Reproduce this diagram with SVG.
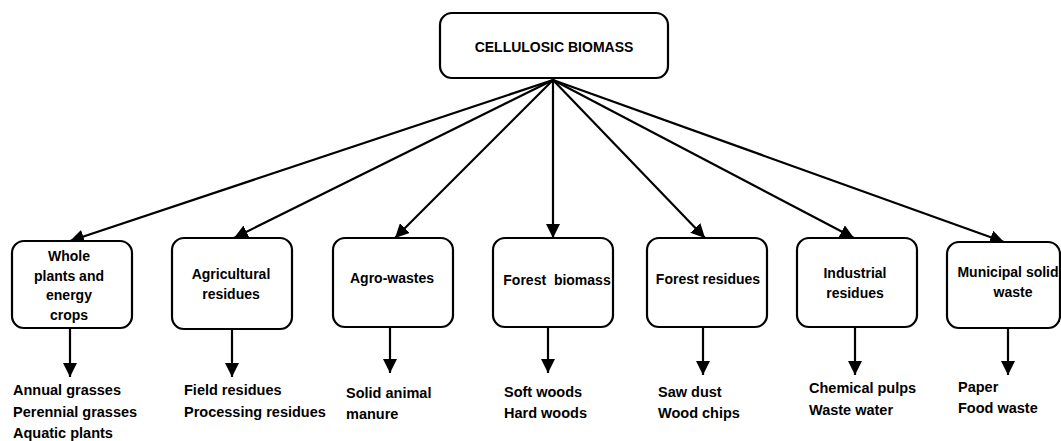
<svg xmlns="http://www.w3.org/2000/svg" width="1061" height="441" viewBox="0 0 1061 441">
<style>
.box{fill:#fff;stroke:#000;stroke-width:2.2}
.lbl{font-family:"Liberation Sans",Arial,sans-serif;font-weight:bold;font-size:14px;fill:#000;text-anchor:middle}
.sub{font-family:"Liberation Sans",Arial,sans-serif;font-weight:bold;font-size:14.5px;fill:#000}
.arr{stroke:#000;stroke-width:2.2;fill:none;marker-end:url(#ah)}
</style>
<defs>
<marker id="ah" markerUnits="userSpaceOnUse" markerWidth="14" markerHeight="14" refX="14" refY="7" orient="auto">
<path d="M0,0 L14,7 L0,14 z" fill="#000"/>
</marker>
</defs>
<rect width="1061" height="441" fill="#fff"/>
<g id="connectors">
<line class="arr" x1="553" y1="80" x2="70" y2="241"/>
<line class="arr" x1="553" y1="80" x2="234" y2="238"/>
<line class="arr" x1="553" y1="80" x2="395" y2="238"/>
<line class="arr" x1="553" y1="80" x2="553" y2="238"/>
<line class="arr" x1="553" y1="80" x2="705" y2="238"/>
<line class="arr" x1="553" y1="80" x2="854" y2="238"/>
<line class="arr" x1="553" y1="80" x2="1004" y2="242"/>
<line class="arr" x1="70" y1="328" x2="70" y2="377"/>
<line class="arr" x1="232" y1="330" x2="232" y2="377"/>
<line class="arr" x1="390" y1="327" x2="390" y2="373"/>
<line class="arr" x1="548" y1="327" x2="548" y2="373"/>
<line class="arr" x1="703" y1="327" x2="703" y2="375"/>
<line class="arr" x1="855" y1="327" x2="855" y2="375"/>
<line class="arr" x1="1008" y1="328" x2="1008" y2="375"/>
</g>
<g id="root">
<rect class="box" x="440" y="13" width="228" height="65" rx="12"/>
<text class="lbl" x="554" y="52">CELLULOSIC BIOMASS</text>
</g>
<g id="whole-plants">
<rect class="box" x="12" y="241" width="120" height="87" rx="12"/>
<text class="lbl" x="69" y="261">Whole</text>
<text class="lbl" x="69" y="280.5">plants and</text>
<text class="lbl" x="69" y="300">energy</text>
<text class="lbl" x="69" y="319.5">crops</text>
<text class="sub" x="13" y="395">Annual grasses</text>
<text class="sub" x="13" y="417">Perennial grasses</text>
<text class="sub" x="13" y="438">Aquatic plants</text>
</g>
<g id="agricultural-residues">
<rect class="box" x="172" y="238" width="120" height="91" rx="12"/>
<text class="lbl" x="231" y="279">Agricultural</text>
<text class="lbl" x="231" y="299">residues</text>
<text class="sub" x="184" y="395">Field residues</text>
<text class="sub" x="184" y="417">Processing residues</text>
</g>
<g id="agro-wastes">
<rect class="box" x="333" y="238" width="120" height="89" rx="12"/>
<text class="lbl" x="392" y="283">Agro-wastes</text>
<text class="sub" x="346" y="398">Solid animal</text>
<text class="sub" x="346" y="419">manure</text>
</g>
<g id="forest-biomass">
<rect class="box" x="493" y="238" width="120" height="89" rx="12"/>
<text class="lbl" x="557" y="285" xml:space="preserve">Forest  biomass</text>
<text class="sub" x="504" y="397">Soft woods</text>
<text class="sub" x="504" y="418">Hard woods</text>
</g>
<g id="forest-residues">
<rect class="box" x="647" y="238" width="120" height="89" rx="12"/>
<text class="lbl" x="708" y="284">Forest residues</text>
<text class="sub" x="658" y="397">Saw dust</text>
<text class="sub" x="658" y="418">Wood chips</text>
</g>
<g id="industrial-residues">
<rect class="box" x="797" y="238" width="120" height="89" rx="12"/>
<text class="lbl" x="855" y="278">Industrial</text>
<text class="lbl" x="855" y="298">residues</text>
<text class="sub" x="809" y="393">Chemical pulps</text>
<text class="sub" x="809" y="415">Waste water</text>
</g>
<g id="municipal-solid-waste">
<rect class="box" x="947" y="242" width="113" height="86" rx="12"/>
<text class="lbl" x="1008" y="277">Municipal solid</text>
<text class="lbl" x="1013" y="297">waste</text>
<text class="sub" x="958" y="392">Paper</text>
<text class="sub" x="958" y="413">Food waste</text>
</g>
</svg>
